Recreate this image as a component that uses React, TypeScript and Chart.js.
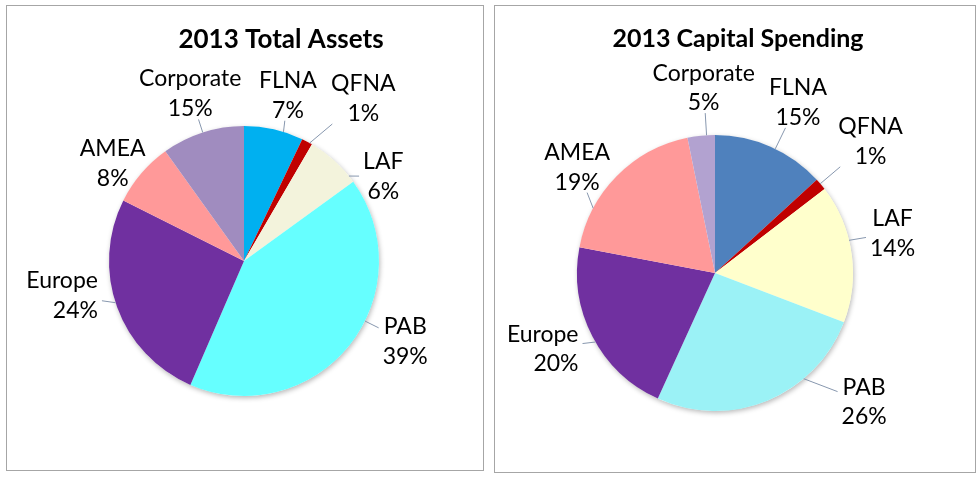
import React, { useEffect, useRef } from "react";
import { Chart, registerables } from "chart.js";

Chart.register(...registerables);

// ---------- data ----------
const segments = ["FLNA", "QFNA", "LAF", "PAB", "Europe", "AMEA", "Corporate"];

const assetShares = [7.1, 1.3, 6.6, 41.5, 25.9, 7.7, 9.9];
const assetPctLabels = ["7%", "1%", "6%", "39%", "24%", "8%", "15%"];

const capexShares = [13.2, 1.4, 16.2, 26.0, 21.2, 18.8, 3.2];
const capexPctLabels = ["15%", "1%", "14%", "26%", "20%", "19%", "5%"];

// ---------- styles ----------
const assetColors = ["#00B0F0", "#C00000", "#F3F3DC", "#66FFFF", "#7030A0", "#FF9999", "#A08CBF"];
const capexColors = ["#4F81BD", "#C00000", "#FFFFCC", "#9BF2F6", "#7030A0", "#FF9999", "#B2A2D0"];

const FONT = "Lato, 'Open Sans', sans-serif";

type Place = { a: number; d: number; align: "center" | "right"; la?: number };

// label block placement: angle (deg, clockwise from 12 o'clock) and distance (px) from pie centre;
// la = optional angle where the leader line leaves the pie edge
const assetPlaces: Place[] = [
  { a: 14.8, d: 172, align: "center", la: 17 },
  { a: 36.2, d: 202, align: "center" },
  { a: 58.7, d: 163, align: "center", la: 51 },
  { a: 116.4, d: 180, align: "center" },
  { a: 259.4, d: 185, align: "right", la: 252 },
  { a: 306.8, d: 164, align: "center", la: 309 },
  { a: 342.2, d: 176, align: "center" },
];
const capexPlaces: Place[] = [
  { a: 25.9, d: 190, align: "center" },
  { a: 49.7, d: 204, align: "center" },
  { a: 77.3, d: 182, align: "center", la: 76.3 },
  { a: 130.8, d: 197, align: "center", la: 140 },
  { a: 246.4, d: 188, align: "right", la: 240 },
  { a: 307.6, d: 174, align: "center", la: 298 },
  { a: 356.5, d: 186, align: "center" },
];

type PieSpec = {
  title: string;
  titleX: number;
  titleY: number;
  titleSize: number;
  values: number[];
  pct: string[];
  colors: string[];
  places: Place[];
  padding: { left: number; right: number; top: number; bottom: number };
  width: number;
  height: number;
  lineGap: number;
};

const labelPlugin = {
  id: "excelLabels",
  beforeDatasetsDraw(chart: any) {
    const meta = chart.getDatasetMeta(0);
    const arc = meta.data[0];
    if (!arc) return;
    const { ctx } = chart;
    ctx.save();
    ctx.shadowColor = "rgba(0,0,0,0.28)";
    ctx.shadowBlur = 5;
    ctx.shadowOffsetX = 1;
    ctx.shadowOffsetY = 2;
    ctx.fillStyle = "#ffffff";
    ctx.beginPath();
    ctx.arc(arc.x, arc.y, arc.outerRadius, 0, Math.PI * 2);
    ctx.fill();
    ctx.restore();
  },
  afterDatasetsDraw(chart: any, _a: any, opts: any) {
    const spec: PieSpec = opts.spec;
    const { ctx } = chart;
    const meta = chart.getDatasetMeta(0);
    ctx.save();
    // title
    ctx.font = `bold ${spec.titleSize}px ${FONT}`;
    ctx.fillStyle = "#000";
    ctx.textAlign = "center";
    ctx.textBaseline = "alphabetic";
    ctx.fillText(spec.title, spec.titleX, spec.titleY);

    ctx.font = `23px ${FONT}`;
    meta.data.forEach((el: any, i: number) => {
      const p = spec.places[i];
      const cx = el.x;
      const cy = el.y;
      const r = el.outerRadius;
      const rad = (p.a * Math.PI) / 180;
      const lx = cx + p.d * Math.sin(rad);
      const ly = cy - p.d * Math.cos(rad);
      const lines = [segments[i], spec.pct[i]];
      const widths = lines.map((t) => ctx.measureText(t).width);
      const bw = Math.max(...widths);
      const gap = spec.lineGap;
      // leader line
      let th = ((p.la ?? p.a) * Math.PI) / 180 - Math.PI / 2;
      const s = el.startAngle;
      const e = el.endAngle;
      const margin = Math.min(0.02, (e - s) / 3);
      if (th < s + margin) th = s + margin;
      if (th > e - margin) th = e - margin;
      const sx = cx + r * Math.cos(th);
      const sy = cy + r * Math.sin(th);
      const bx0 = lx - bw / 2 - 4;
      const bx1 = lx + bw / 2 + 4;
      const by0 = ly - gap / 2 - 11;
      const by1 = ly + gap / 2 + 11;
      const dx = lx - sx;
      const dy = ly - sy;
      let tx = 0;
      let ty = 0;
      if (sx < bx0) tx = (bx0 - sx) / dx;
      else if (sx > bx1) tx = (bx1 - sx) / dx;
      if (sy < by0) ty = (by0 - sy) / dy;
      else if (sy > by1) ty = (by1 - sy) / dy;
      const t = Math.max(tx, ty);
      if (t > 0) {
        ctx.strokeStyle = "#8797AE";
        ctx.lineWidth = 1;
        ctx.beginPath();
        ctx.moveTo(sx, sy);
        ctx.lineTo(sx + dx * t, sy + dy * t);
        ctx.stroke();
      }
      // text
      ctx.fillStyle = "#000";
      ctx.textBaseline = "alphabetic";
      lines.forEach((txt, k) => {
        const y = ly + (k === 0 ? -gap / 2 : gap / 2) + 8;
        if (p.align === "right") {
          ctx.textAlign = "right";
          ctx.fillText(txt, lx + bw / 2, y);
        } else {
          ctx.textAlign = "center";
          ctx.fillText(txt, lx, y);
        }
      });
    });
    ctx.restore();
  },
};

function PieBox(props: { spec: PieSpec; style: React.CSSProperties }) {
  const ref = useRef<HTMLCanvasElement | null>(null);
  const { spec } = props;
  useEffect(() => {
    if (!ref.current) return;
    const chart = new Chart(ref.current, {
      type: "pie",
      data: {
        labels: segments,
        datasets: [
          {
            data: spec.values,
            backgroundColor: spec.colors,
            borderWidth: 0,
          },
        ],
      },
      options: {
        responsive: false,
        animation: false,
        layout: { padding: spec.padding },
        plugins: {
          legend: { display: false },
          tooltip: { enabled: false },
          title: { display: false },
          excelLabels: { spec },
        } as any,
      },
      plugins: [labelPlugin as any],
    });
    return () => chart.destroy();
  }, []);
  return (
    <div
      style={{
        position: "absolute",
        border: "1px solid #A6A6A6",
        background: "#fff",
        boxSizing: "border-box",
        ...props.style,
      }}
    >
      <canvas ref={ref} width={spec.width} height={spec.height} style={{ display: "block", width: spec.width, height: spec.height }} />
    </div>
  );
}

const assetSpec: PieSpec = {
  title: "2013 Total Assets",
  titleX: 274,
  titleY: 42,
  titleSize: 26,
  values: assetShares,
  pct: assetPctLabels,
  colors: assetColors,
  places: assetPlaces,
  padding: { left: 102, right: 104, top: 120, bottom: 74 },
  width: 476,
  height: 464,
  lineGap: 30,
};

const capexSpec: PieSpec = {
  title: "2013 Capital Spending",
  titleX: 243,
  titleY: 41,
  titleSize: 25,
  values: capexShares,
  pct: capexPctLabels,
  colors: capexColors,
  places: capexPlaces,
  padding: { left: 82, right: 122, top: 129, bottom: 61 },
  width: 480,
  height: 466,
  lineGap: 29.5,
};

export default function App() {
  return (
    <div style={{ position: "fixed", left: 0, top: 0, width: 980, height: 478, background: "#fff", overflow: "hidden" }}>
      <PieBox spec={assetSpec} style={{ left: 6, top: 5, width: 478, height: 466 }} />
      <PieBox spec={capexSpec} style={{ left: 494, top: 5, width: 482, height: 468 }} />
    </div>
  );
}
